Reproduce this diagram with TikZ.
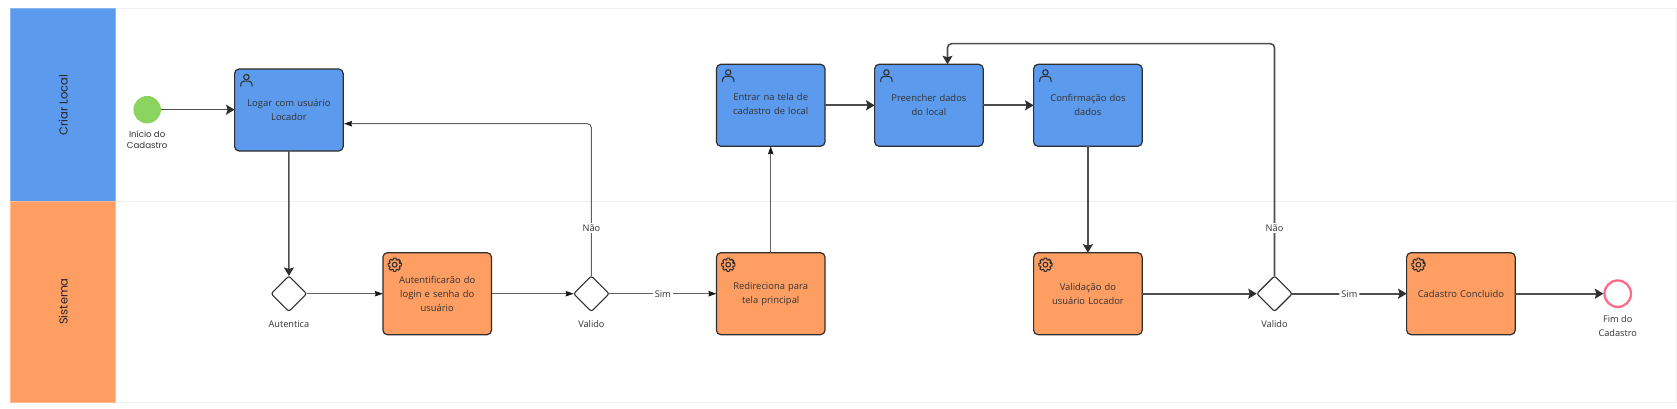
\documentclass[tikz,border=0pt]{standalone}
\usepackage{fontspec}
\setmainfont{Open Sans}
\newfontfamily\lanefont{Poppins}
\usetikzlibrary{arrows.meta,shapes.geometric,calc}
\definecolor{laneblue}{HTML}{5B9AEC}
\definecolor{laneorange}{HTML}{FF9E63}
\definecolor{startgreen}{HTML}{8AD45F}
\definecolor{endpink}{HTML}{FF6B8A}
\definecolor{ink}{HTML}{2F2F2F}
\definecolor{txt}{HTML}{333333}
\definecolor{laneline}{HTML}{EEF0F2}
\tikzset{
  px/.style={x=1pt,y=-1pt},
  lanehead/.style={draw=#1!70!white,fill=#1,line width=.8pt,minimum width=105pt,outer sep=0pt,inner sep=0pt},
  lanebody/.style={draw=laneline,line width=.8pt,fill=white,minimum width=1560.3pt,outer sep=0pt},
  lanetext/.style={rotate=90,font=\lanefont\fontsize{11.5}{14}\selectfont,text=black!85},
  task/.style={draw=ink,line width=1.2pt,rounded corners=4.5pt,minimum width=108.6pt,minimum height=82pt,inner sep=2pt,outer sep=0pt,align=center,text=txt,font=\fontsize{9.4}{14}\selectfont,anchor=north west,text width=96pt},
  bluetask/.style={task,fill=laneblue},
  orangetask/.style={task,fill=laneorange},
  gateway/.style={diamond,draw=ink,line width=1.1pt,fill=white,minimum width=35.5pt,minimum height=35.5pt,inner sep=0pt,outer sep=0pt,rounded corners=2.2pt},
  caption/.style={align=center,text=txt,font=\fontsize{9.2}{13.5}\selectfont,inner sep=0pt},
  startcaption/.style={align=center,text=txt,font=\lanefont\fontsize{8.6}{11}\selectfont,inner sep=0pt},
  edgelabel/.style={fill=white,text=txt,font=\fontsize{9.2}{11}\selectfont,inner sep=2pt},
  heavy/.style={draw=ink!85,line width=1.6pt,-{Stealth[length=8.5pt,width=10pt,inset=1.5pt,color=ink]},rounded corners=4pt},
  thin flow/.style={draw=black!62,line width=1pt,-{Stealth[length=8pt,width=5.5pt,inset=.8pt,color=black!90]},rounded corners=4pt},
  person/.pic={
    \draw[ink,line width=1.05pt] (0,-3.4) circle[radius=2.7];
    \draw[ink,line width=1.05pt] (-5.8,6) .. controls (-5.8,1.4) and (-3.6,.6) .. (-2.2,.6) -- (2.2,.6) .. controls (3.6,.6) and (5.8,1.4) .. (5.8,6);
  },
  gear/.pic={
    \draw[ink,line width=1.05pt,line join=round]
      \foreach \a in {0,45,...,315}{
        ({\a-11}:6.7) -- ({\a+11}:6.7) -- ({\a+17}:5.1) -- ({\a+28}:5.1) -- ({\a+34}:6.7)
      } -- cycle;
    \draw[ink,line width=1.05pt] (0,0) circle[radius=2.4];
  }
}
\begin{document}
\begin{tikzpicture}[px]
\useasboundingbox[fill=white] (0,0) rectangle (1677,409);
% lanes
\node[lanebody,minimum height=192.7pt,anchor=north west] (body1) at (115.7,8.3) {};
\node[lanebody,minimum height=201pt,anchor=north west] (body2) at (115.7,201) {};
\node[lanehead=laneblue,minimum height=192.7pt,anchor=north west] (lane1) at (10.7,8.3) {};
\node[lanehead=laneorange,minimum height=201pt,anchor=north west] (lane2) at (10.7,201) {};
\node[lanetext] (lane1t) at (63.2,105) {Criar Local};
\node[lanetext] (lane2t) at (63.2,301.5) {Sistema};
% events
\node[circle,fill=startgreen,minimum size=27.5pt,inner sep=0pt,outer sep=0pt] (start) at (147.2,109.7) {};
\node[startcaption] (startl) at (147.2,140) {Início do\\Cadastro};
\node[circle,draw=endpink,line width=2.3pt,fill=white,minimum size=26.5pt,inner sep=0pt,outer sep=1.1pt] (fim) at (1617.7,293.7) {};
\node[caption] (fiml) at (1617.7,326) {Fim do\\Cadastro};
% tasks
\node[bluetask] (logar) at (234.6,69) {Logar com usuário\\Locador};
\node[orangetask] (auth) at (382.9,252.7) {Autentificarão do\\login e senha do\\usuário};
\node[orangetask] (redir) at (716.4,252.7) {Redireciona para\\tela principal};
\node[bluetask] (entrar) at (716.4,64.3) {Entrar na tela de\\cadastro de local\vphantom{g}};
\node[bluetask] (preen) at (874.6,64.3) {Preencher dados\\do local};
\node[bluetask] (conf) at (1033.6,64.3) {Confirmação dos\\dados};
\node[orangetask] (valid) at (1033.6,252.7) {Validação do\\usuário Locador};
\node[orangetask] (conc) at (1406.6,252.7) {Cadastro Concluido};
% gateways
\node[gateway] (g1) at (288.9,293.7) {};
\node[gateway] (g2) at (591.4,293.7) {};
\node[gateway] (g3) at (1274.5,293.7) {};
\node[caption] (g1l) at (288.9,324) {Autentica};
\node[caption] (g2l) at (591.4,324) {Valido};
\node[caption] (g3l) at (1274.5,324) {Valido};
% icons
\pic at ([shift={(11.8,11.5)}]logar.north west) {person};
\pic at ([shift={(11.8,11.5)}]entrar.north west) {person};
\pic at ([shift={(11.8,11.5)}]preen.north west) {person};
\pic at ([shift={(11.8,11.5)}]conf.north west) {person};
\pic at ([shift={(11.8,12)}]auth.north west) {gear};
\pic at ([shift={(11.8,12)}]redir.north west) {gear};
\pic at ([shift={(11.8,12)}]valid.north west) {gear};
\pic at ([shift={(11.8,12)}]conc.north west) {gear};
% free ends
\coordinate (logarin) at (344,123.7);
\coordinate (logarbend) at (591.4,123.7);
\coordinate (loopa) at (1274.5,43.7);
\coordinate (loopb) at (947.5,43.7);
\coordinate (preenin) at (947.5,64.3);
% connectors
\draw[heavy] (start) -- (start-|logar.west);
\draw[heavy] (logar) -- (g1);
\draw[thin flow] (g1) -- (auth);
\draw[thin flow] (auth) -- (g2);
\draw[thin flow] (g2) -- node[edgelabel] (sim1) {Sim} (redir);
\draw[thin flow] (g2.north) -- (logarbend) -- (logarin);
\node[edgelabel] (nao1) at (591.4,228) {Não};
\draw[thin flow] (redir) -- (entrar);
\draw[heavy] (entrar) -- (preen);
\draw[heavy] (preen) -- (conf);
\draw[heavy] (conf) -- (valid);
\draw[heavy] (valid) -- (g3);
\draw[heavy] (g3) -- node[edgelabel] (sim2) {Sim} (conc);
\draw[heavy] (conc) -- (fim);
\draw[heavy] (g3.north) -- (loopa) -- (loopb) -- (preenin);
\node[edgelabel] (nao2) at (1274.5,228) {Não};
\end{tikzpicture}
\end{document}
